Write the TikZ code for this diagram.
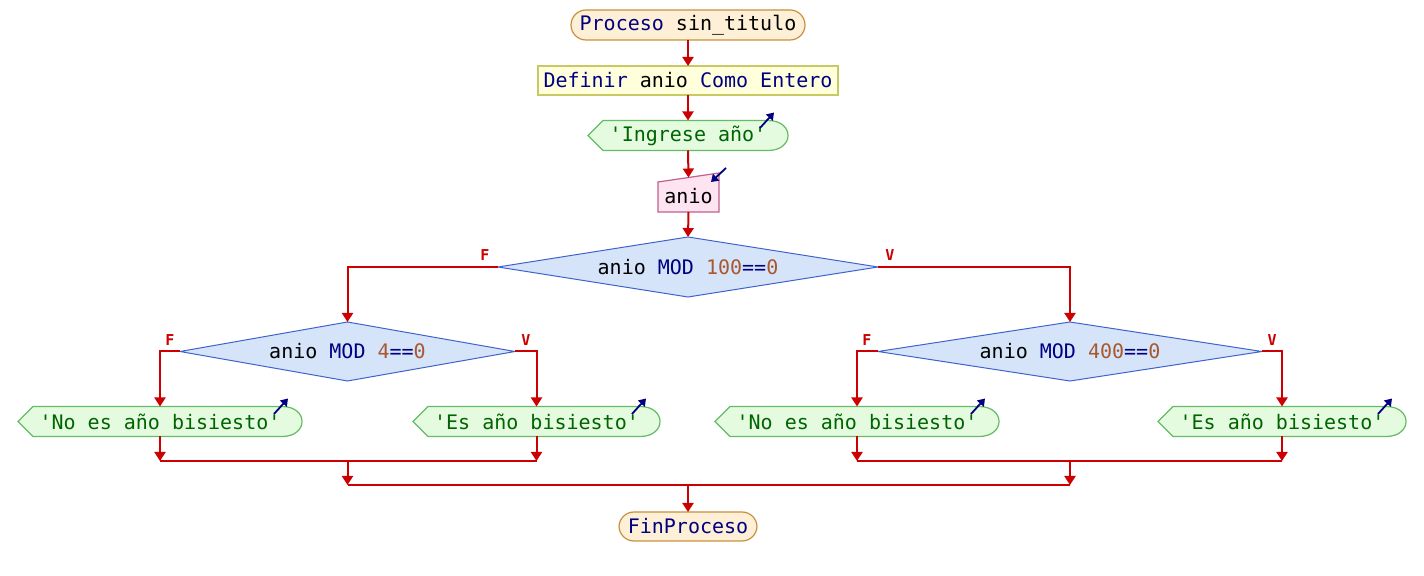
\documentclass[tikz,border=0pt]{standalone}
\usepackage{fontspec}
\setmonofont{DejaVu Sans Mono}
\usetikzlibrary{arrows.meta}
\definecolor{kw}{HTML}{000080}
\definecolor{num}{HTML}{A8582E}
\definecolor{strg}{HTML}{006400}
\definecolor{flowred}{HTML}{CC0000}
\definecolor{termfill}{HTML}{FDF0D6}
\definecolor{termdraw}{HTML}{C8903E}
\definecolor{deffill}{HTML}{FFFFDC}
\definecolor{defdraw}{HTML}{C8C864}
\definecolor{outfill}{HTML}{E4FBE0}
\definecolor{outdraw}{HTML}{66BB66}
\definecolor{infill}{HTML}{FDE4F0}
\definecolor{indraw}{HTML}{C0608F}
\definecolor{decfill}{HTML}{D6E4FA}
\definecolor{decdraw}{HTML}{4062CC}
\tikzset{
  base/.style={inner sep=0pt, outer sep=0pt},
  term/.style={base, draw=termdraw, fill=termfill, rounded corners=7.5pt, line width=0.6pt, text=black},
  procbox/.style={base, draw=defdraw, fill=deffill, line width=0.6pt, text=black},
  outsh/.style={draw=outdraw, fill=outfill, line width=0.6pt},
  insh/.style={draw=indraw, fill=infill, line width=0.6pt},
  decsh/.style={draw=decdraw, fill=decfill, line width=0.5pt},
  flow/.style={draw=flowred, line width=1pt},
  arr/.style={flow, -{Triangle[width=5.5pt,length=4.5pt]}},
  icon/.style={draw=kw, line width=0.9pt, -{Triangle[width=4.5pt,length=3.5pt]}},
  lbl/.style={base, text=flowred, font=\ttfamily\bfseries\fontsize{7.5}{8}\selectfont}
}
\newcommand\outnode[5]{%
  \path[outsh] ({#2-#4},#3) -- ({#2-#4+15},{#3-15}) -- ({#2+#4-20},{#3-15})
    .. controls ({#2+#4+6.7},{#3-15}) and ({#2+#4+6.7},{#3+15}) .. ({#2+#4-20},{#3+15})
    -- ({#2-#4+15},{#3+15}) -- cycle;
  \node[base, minimum width=#4pt, minimum height=15pt, text=strg] (#1) at (#2,#3) {#5};
  \draw[icon] ({#2+#4-28},{#3-7.5}) -- ({#2+#4-14},{#3-23});
}
\newcommand\decnode[6]{%
  \path[decsh] ({#2-#4},#3) -- (#2,{#3-#5}) -- ({#2+#4},#3) -- (#2,{#3+#5}) -- cycle;
  \node[base, minimum width=#4pt, minimum height=#5pt, text=black] (#1) at (#2,#3) {#6};
}
\begin{document}
\begin{tikzpicture}[x=0.5pt,y=-0.5pt, font=\ttfamily\fontsize{10}{12}\selectfont]
\useasboundingbox (0,0) rectangle (1424,576);

% nodes
\node[term, minimum width=117pt, minimum height=15pt] (start) at (688,25) {{\color{kw}Proceso} sin\_titulo};
\node[procbox, minimum width=150pt, minimum height=14.5pt] (def) at (688,80.5) {{\color{kw}Definir} anio {\color{kw}Como Entero}};
\outnode{out0}{688}{135.5}{100}{'Ingrese año'}

\path[insh] (658,182) -- (719,173) -- (719,212) -- (658,212) -- cycle;
\node[base, minimum width=30.5pt, minimum height=16pt, text=black] (in0) at (688.5,196) {anio};
\coordinate (in0top) at (688.5,177.5);
\draw[icon] (726,168) -- (711,182);

\decnode{d1}{688}{267}{190}{30}{anio {\color{kw}MOD} {\color{num}100}{\color{kw}==}{\color{num}0}}
\decnode{d2}{347.5}{351.5}{167.5}{29.5}{anio {\color{kw}MOD} {\color{num}4}{\color{kw}==}{\color{num}0}}
\decnode{d3}{1070}{351.5}{192}{29.5}{anio {\color{kw}MOD} {\color{num}400}{\color{kw}==}{\color{num}0}}

\outnode{o1}{160}{421.5}{142}{'No es año bisiesto'}
\outnode{o2}{536.5}{421.5}{123.5}{'Es año bisiesto'}
\outnode{o3}{857}{421.5}{142}{'No es año bisiesto'}
\outnode{o4}{1282}{421.5}{124}{'Es año bisiesto'}

\node[term, minimum width=69pt, minimum height=14.5pt] (fin) at (688,526.5) {{\color{kw}FinProceso}};

% labels
\node[lbl] (f1) at (485,255) {F};
\node[lbl] (v1) at (890,255) {V};
\node[lbl] (f2) at (170,340) {F};
\node[lbl] (v2) at (526,340) {V};
\node[lbl] (f3) at (867,340) {F};
\node[lbl] (v3) at (1272,340) {V};

% join coordinates
\coordinate (jA) at (160,461);
\coordinate (jB) at (536.5,461);
\coordinate (jC) at (857,461);
\coordinate (jD) at (1282,461);
\coordinate (jAB) at (347.5,461);
\coordinate (jCD) at (1070,461);
\coordinate (kL) at (347.5,485);
\coordinate (kR) at (1070,485);
\coordinate (kM) at (688,485);

% connectors
\draw[arr] (start.south) -- (def.north);
\draw[arr] (def.south) -- (out0.north);
\draw[arr] (out0.south) -- (in0top);
\draw[arr] (in0.south) -- (d1.north);
\draw[arr] (d1.west) -| (d2.north);
\draw[arr] (d1.east) -| (d3.north);
\draw[arr] (d2.west) -| (o1.north);
\draw[arr] (d2.east) -| (o2.north);
\draw[arr] (d3.west) -| (o3.north);
\draw[arr] (d3.east) -| (o4.north);
\draw[arr] (o1.south) -- (jA);
\draw[arr] (o2.south) -- (jB);
\draw[flow] (jA) -- (jB);
\draw[arr] (o3.south) -- (jC);
\draw[arr] (o4.south) -- (jD);
\draw[flow] (jC) -- (jD);
\draw[arr] (jAB) -- (kL);
\draw[arr] (jCD) -- (kR);
\draw[flow] (kL) -- (kR);
\draw[arr] (kM) -- (fin.north);
\end{tikzpicture}
\end{document}
